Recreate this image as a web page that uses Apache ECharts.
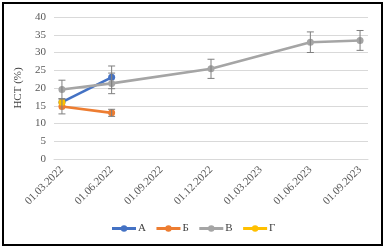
<!DOCTYPE html>
<html>
<head>
<meta charset="utf-8">
<script src="https://cdn.jsdelivr.net/npm/echarts@6/dist/echarts.min.js"></script>
<style>
html,body{margin:0;padding:0;background:#fff;}
#c{width:386px;height:249px;}
</style>
</head>
<body>
<div id="c"></div>
<script>
const dateLabels = ['01.03.2022','01.06.2022','01.09.2022','01.12.2022','01.03.2023','01.06.2023','01.09.2023'];
const yTicks = [0,5,10,15,20,25,30,35,40];

const datesA = ['01.03.2022','01.06.2022'];
const valuesA = [16.0, 23.0];
const errA = [0, 3.2];

const datesB = ['01.03.2022','01.06.2022'];
const valuesB = [14.8, 13.0];
const errB = [2.1, 1.0];

const datesV = ['01.03.2022','01.06.2022','01.12.2022','01.06.2023','01.09.2023'];
const valuesV = [19.6, 21.3, 25.4, 32.9, 33.4];
const errV = [2.6, 2.9, 2.7, 2.9, 2.8];

const datesG = ['01.03.2022'];
const valuesG = [16.0];

const names = ['А','Б','В','Г'];
const colors = ['#4472C4','#ED7D31','#A5A5A5','#FFC000'];

function pts(dates, vals){ return dates.map((d,i)=>[dateLabels.indexOf(d), vals[i]]); }
function errs(dates, vals, e){ return dates.map((d,i)=>[dateLabels.indexOf(d), vals[i]-e[i], vals[i]+e[i]]).filter((r,i)=>e[i]>0); }

const font = 'Liberation Serif, Times New Roman, serif';

function errSeries(data){
  return {
    type:'custom', silent:true, z:3,
    renderItem:function(params, api){
      const x = api.value(0);
      const lo = api.coord([x, api.value(1)]);
      const hi = api.coord([x, api.value(2)]);
      const w = 3.5;
      const st = {stroke:'#7F7F7F', lineWidth:1};
      return {type:'group', children:[
        {type:'line', shape:{x1:lo[0],y1:lo[1],x2:hi[0],y2:hi[1]}, style:st},
        {type:'line', shape:{x1:lo[0]-w,y1:lo[1],x2:lo[0]+w,y2:lo[1]}, style:st},
        {type:'line', shape:{x1:hi[0]-w,y1:hi[1],x2:hi[0]+w,y2:hi[1]}, style:st}
      ]};
    },
    data:data
  };
}

function lineSeries(i, data){
  return {
    name:names[i], type:'line', data:data, symbol:'circle', symbolSize:7,
    lineStyle:{width:2.6, color:colors[i]}, itemStyle:{color:colors[i]},
    z:2 + i*0.1, animation:false
  };
}

const chart = echarts.init(document.getElementById('c'), null, {renderer:'canvas'});
chart.setOption({
  animation:false,
  graphic:[{type:'rect', shape:{x:3,y:3,width:379,height:242}, style:{fill:'none', stroke:'#000', lineWidth:2}, z:100}],
  grid:{left:54, right:18, top:17, bottom:90},
  legend:{
    bottom:10, left:'center', itemWidth:24, itemHeight:8, itemGap:9,
    data:names,
    itemStyle:{},
    lineStyle:{width:3},
    textStyle:{fontFamily:font, fontSize:11, color:'#404040', padding:[0,0,0,-3]}
  },
  xAxis:{
    type:'value', min:-0.16, max:6.16,
    splitLine:{show:false},
    axisLine:{show:true, lineStyle:{color:'#D9D9D9'}},
    axisTick:{show:false},
    axisLabel:{
      customValues:[0,1,2,3,4,5,6],
      rotate:45, margin:9,
      fontFamily:font, fontSize:11, color:'#595959',
      formatter:function(v){ return dateLabels[Math.round(v)]; }
    }
  },
  yAxis:{
    type:'value', min:yTicks[0], max:yTicks[yTicks.length-1], interval:5,
    name:'HCT (%)', nameLocation:'middle', nameGap:23,
    nameTextStyle:{fontFamily:font, fontSize:11, color:'#404040'},
    axisLine:{show:false}, axisTick:{show:false},
    splitLine:{lineStyle:{color:'#D9D9D9', width:1}},
    axisLabel:{margin:8, fontFamily:font, fontSize:11, color:'#595959'}
  },
  series:[
    errSeries(errs(datesV, valuesV, errV)),
    errSeries(errs(datesB, valuesB, errB)),
    errSeries(errs(datesA, valuesA, errA)),
    lineSeries(0, pts(datesA, valuesA)),
    lineSeries(1, pts(datesB, valuesB)),
    lineSeries(2, pts(datesV, valuesV)),
    lineSeries(3, pts(datesG, valuesG))
  ]
});
</script>
</body>
</html>
